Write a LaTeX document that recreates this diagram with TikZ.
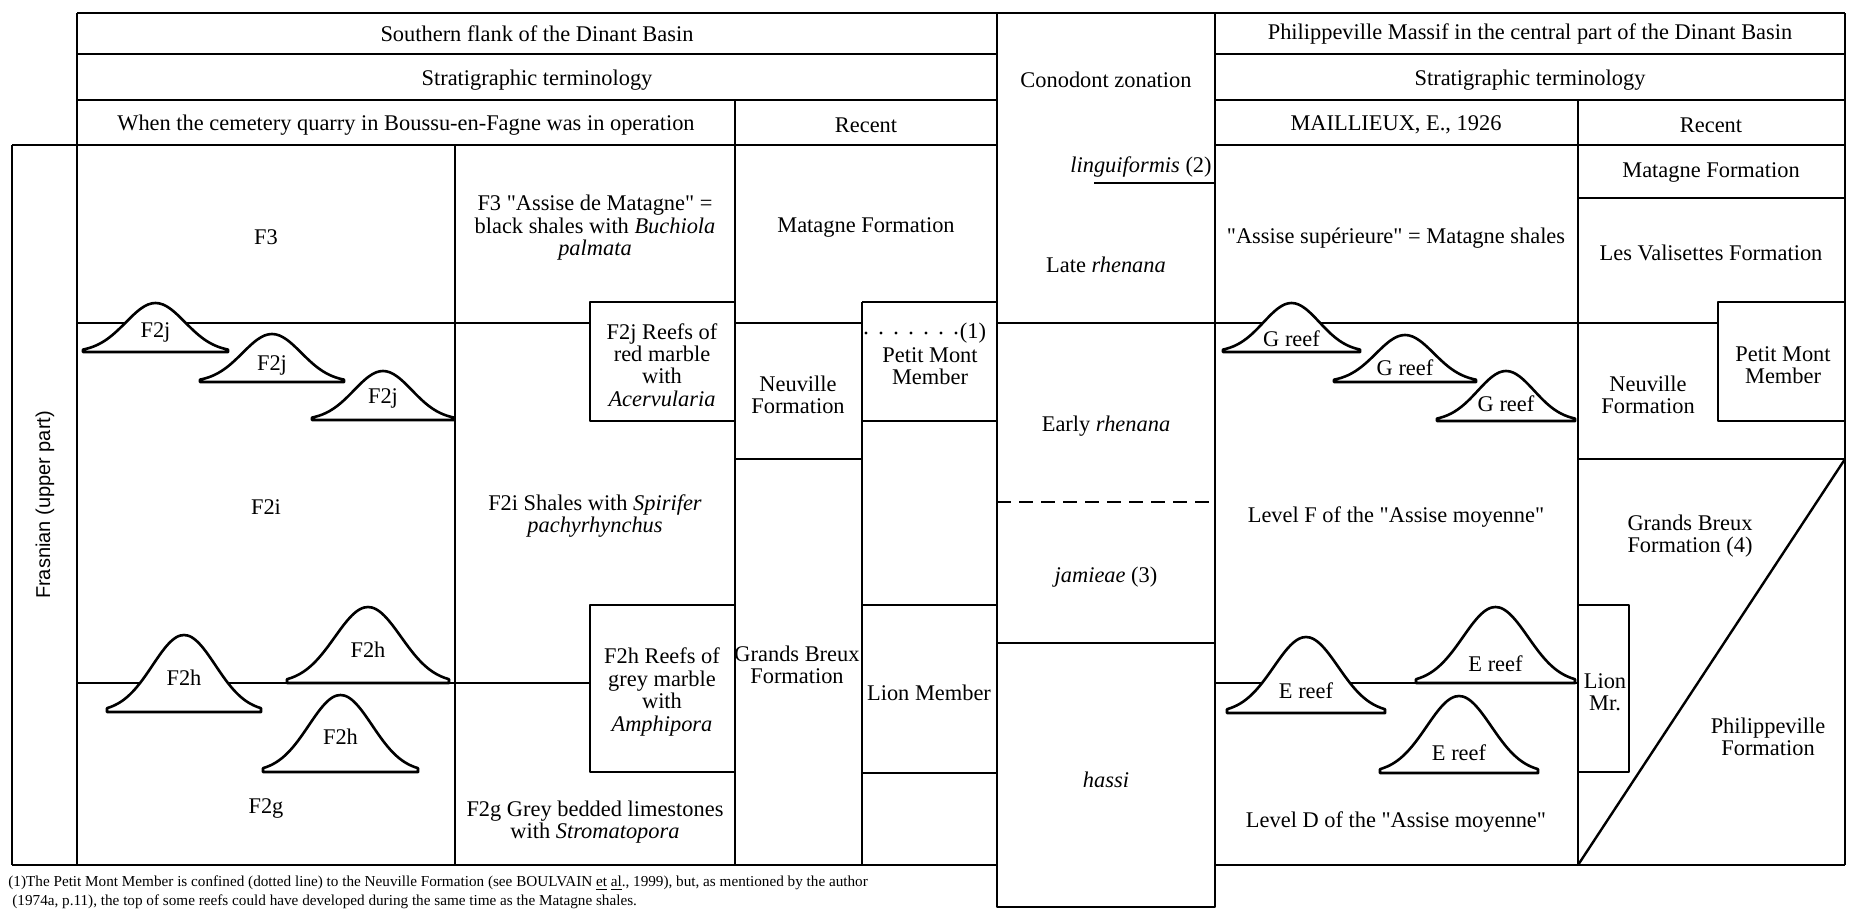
\documentclass[tikz,border=0pt]{standalone}
\usepackage{fontspec}
\setmainfont{Liberation Serif}
\setsansfont{Liberation Sans}
\newfontfamily\quotefont{Liberation Serif}
\newcommand{\dq}{{\quotefont"}}
\usetikzlibrary{positioning}

\tikzset{
  cell/.style={inner sep=0pt, align=center, font=\fontsize{11.2}{11.2}\selectfont},
  rule/.style={line width=1.2pt},
  reefline/.style={line width=1.3pt, fill=white},
  note/.style={inner sep=0pt, anchor=base west, font=\fontsize{7.6}{8}\selectfont}
}

% reef: name, left, right, base, top, label y, label
\newcommand{\reef}[7]{%
  \draw[reefline] (#2,#4) -- plot[domain=-1:1, samples=41, smooth]
    ({(#2+#3)/2+(#3-#2)/2*\x}, {#4-(#4-#5)*exp(-3*(\x)^2)}) -- (#3,#4) -- cycle;
  \node[cell] (#1) at ({(#2+#3)/2}, #6) {#7};}

\begin{document}
\begin{tikzpicture}[x=0.5pt, y=-0.5pt, line join=round]

\useasboundingbox (0,0) rectangle (1850,909);
\fill[white] (0,0) rectangle (1850,909);
\clip (0,0) rectangle (1850,909);

% lines crossed by the reefs
\draw[rule] (77,323) -- (590,323);
\draw[rule] (77,683) -- (590,683);
\draw[rule] (1215,323) -- (1718,323);
\draw[rule] (1215,683) -- (1578,683);

\reef{fja}{83}{228}{352}{303}{332}{F2j}
\reef{fjb}{200}{344}{382}{334}{365}{F2j}
\reef{fjc}{312}{454}{420}{371}{398}{F2j}
\reef{fha}{107}{261}{712}{635}{678}{F2h}
\reef{fhb}{287}{449}{683}{607}{650}{F2h}
\reef{fhc}{263}{418}{772}{695}{737}{F2h}
\reef{ga}{1223}{1360}{352}{303}{339}{G reef}
\reef{gb}{1334}{1476}{382}{335}{368}{G reef}
\reef{gc}{1437}{1575}{421}{371}{404}{G reef}
\reef{ea}{1227}{1385}{713}{637}{691}{E reef}
\reef{eb}{1416}{1575}{683}{607}{664}{E reef}
\reef{ec}{1380}{1538}{773}{696}{753}{E reef}

% frame and header
\draw[rule] (77,13) -- (1845,13);
\draw[rule] (77,54) -- (997,54) (1215,54) -- (1845,54);
\draw[rule] (77,100) -- (997,100) (1215,100) -- (1845,100);
\draw[rule] (12,145) -- (997,145) (1215,145) -- (1845,145);
\draw[rule] (12,865) -- (997,865) (1215,865) -- (1845,865);
\draw[rule] (12,145) -- (12,865);
\draw[rule] (77,13) -- (77,865);
\draw[rule] (455,145) -- (455,865);
\draw[rule] (735,100) -- (735,865);
\draw[rule] (862,302) -- (862,865);
\draw[rule] (997,13) -- (997,907) -- (1215,907) -- (1215,13);
\draw[rule] (1578,100) -- (1578,865);
\draw[rule] (1845,13) -- (1845,865);

% southern flank
\draw[rule] (735,302) -- (590,302) -- (590,421) -- (735,421);
\draw[rule] (735,605) -- (590,605) -- (590,772) -- (735,772);
\draw[rule] (735,323) -- (862,323);
\draw[rule] (862,302) -- (997,302) (862,421) -- (997,421);
\draw[rule] (735,459) -- (862,459);
\draw[rule] (862,605) -- (997,605) (862,773) -- (997,773);
\draw[line width=1.6pt, line cap=round, dash pattern=on 0pt off 7.5pt] (866,333) -- (958,333);

% conodonts
\draw[rule] (1094,183) -- (1215,183);
\draw[rule] (997,323) -- (1215,323);
\draw[rule, dash pattern=on 7pt off 4pt] (997,502) -- (1215,502);
\draw[rule] (997,643) -- (1215,643);

% philippeville
\draw[rule] (1578,198) -- (1845,198);
\draw[rule] (1718,323) -- (1718,302) -- (1845,302) (1718,323) -- (1718,421) -- (1845,421);
\draw[rule] (1578,459) -- (1845,459);
\draw[rule] (1578,865) -- (1845,459);
\draw[rule] (1578,605) -- (1629,605) -- (1629,772) -- (1578,772);

% header texts
\node[cell] (south) at (537,34) {Southern flank of the Dinant Basin};
\node[cell] (termleft) at (537,80) {Stratigraphic terminology};
\node[cell] (quarry) at (406,125) {When the cemetery quarry in Boussu-en-Fagne was in operation};
\node[cell] (recleft) at (866,125) {Recent};
\node[cell] (conodont) at (1106,80) {Conodont zonation};
\node[cell] (philip) at (1530,34) {Philippeville Massif in the central part of the Dinant Basin};
\node[cell] (termright) at (1530,80) {Stratigraphic terminology};
\node[cell] (maill) at (1396,125) {MAILLIEUX, E., 1926};
\node[cell] (recright) at (1711,125) {Recent};

\node[rotate=90, inner sep=0pt, font=\sffamily\fontsize{10}{10}\selectfont] (frasnian) at (45,505) {Frasnian (upper part)};

% southern flank texts
\node[cell] (fthree) at (266,237) {F3};
\node[cell] (ftwoi) at (266,507) {F2i};
\node[cell] (ftwog) at (266,808) {F2g};
\node[cell] (matagnetxt) at (595,228) {F3 \dq Assise de Matagne\dq{} =\\black shales with \textit{Buchiola}\\\textit{palmata}};
\node[cell] (redmarble) at (662,365) {F2j Reefs of\\red marble\\with\\\textit{Acervularia}};
\node[cell] (shales) at (595,516) {F2i Shales with \textit{Spirifer}\\\textit{pachyrhynchus}};
\node[cell] (greymarble) at (662,692) {F2h Reefs of\\grey marble\\with\\\textit{Amphipora}};
\node[cell] (bedded) at (595,822) {F2g Grey bedded limestones\\with \textit{Stromatopora}};
\node[cell] (matagneleft) at (866,228) {Matagne Formation};
\node[cell] (neuvleft) at (798,395) {Neuville\\Formation};
\node[cell] (pmleft) at (930,366) {Petit Mont\\Member};
\node[cell] (noteone) at (973,333) {(1)};
\node[cell] (breuxleft) at (797,665) {Grands Breux\\Formation};
\node[cell] (lion) at (929,693) {Lion Member};

% conodont texts
\node[cell, anchor=east] (lingui) at (1212,167) {\textit{linguiformis} (2)};
\node[cell] (late) at (1106,265) {Late \textit{rhenana}};
\node[cell] (early) at (1106,426) {Early \textit{rhenana}};
\node[cell] (jamieae) at (1106,577) {\textit{jamieae} (3)};
\node[cell] (hassi) at (1106,780) {\textit{hassi}};

% philippeville texts
\node[cell] (superieure) at (1396,238) {\dq Assise supérieure\dq{} = Matagne shales};
\node[cell] (matagneright) at (1711,173) {Matagne Formation};
\node[cell] (valisettes) at (1711,253) {Les Valisettes Formation};
\node[cell] (neuvright) at (1648,395) {Neuville\\Formation};
\node[cell] (pmright) at (1783,365) {Petit Mont\\Member};
\node[cell] (levelf) at (1396,517) {Level F of the \dq Assise moyenne\dq};
\node[cell] (breuxright) at (1690,536) {Grands Breux\\Formation (4)};
\node[cell] (lionmr) at (1605,692) {Lion\\Mr.};
\node[cell] (philform) at (1768,737) {Philippeville\\Formation};
\node[cell] (leveld) at (1396,822) {Level D of the \dq Assise moyenne\dq};

% footnote
\node[note] (foota) at (8,886) {(1)The Petit Mont Member is confined (dotted line) to the Neuville Formation (see BOULVAIN \underline{et} \underline{al}., 1999), but, as mentioned by the author};
\node[note] (footb) at (12,905) {(1974a, p.11), the top of some reefs could have developed during the same time as the Matagne shales.};

\end{tikzpicture}
\end{document}
